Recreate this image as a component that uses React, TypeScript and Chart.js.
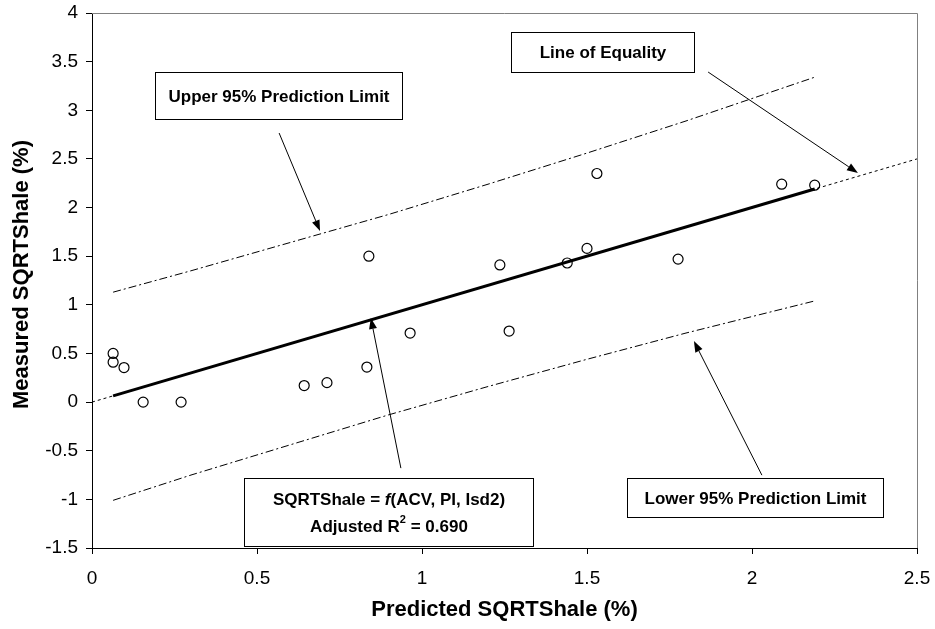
import React, { useEffect, useRef } from "react";
import { Chart, registerables } from "chart.js";

Chart.register(...registerables);

// ---- data ----
const predicted = [0.064, 0.064, 0.097, 0.155, 0.27, 0.643, 0.712, 0.833, 0.839, 0.964, 1.236, 1.264, 1.44, 1.5, 1.53, 1.776, 2.09, 2.19];
const measured = [0.5, 0.41, 0.355, 0.0, 0.0, 0.17, 0.2, 0.36, 1.5, 0.71, 1.41, 0.73, 1.43, 1.58, 2.35, 1.47, 2.24, 2.23];

const fitX = [0.064, 2.19];
const fitY = [0.064, 2.19];

const equalityX = [0, 2.5];
const equalityY = [0, 2.5];

const bandX = [0.064, 0.3, 0.6, 0.9, 1.2, 1.5, 1.8, 2.19];
const upperPI = [1.13, 1.35, 1.64, 1.93, 2.24, 2.56, 2.89, 3.34];
const lowerPI = [-1.01, -0.75, -0.44, -0.13, 0.16, 0.44, 0.71, 1.04];

const xTicks = [0, 0.5, 1, 1.5, 2, 2.5];
const yTicks = [-1.5, -1, -0.5, 0, 0.5, 1, 1.5, 2, 2.5, 3, 3.5, 4];

const xTitle = "Predicted SQRTShale (%)";
const yTitle = "Measured SQRTShale (%)";

// annotation labels (text parts)
const upperLabel = [[{ t: "Upper 95% Prediction Limit" }]];
const equalityLabel = [[{ t: "Line of Equality" }]];
const lowerLabel = [[{ t: "Lower 95% Prediction Limit" }]];
const modelLabel = [
  [{ t: "SQRTShale = " }, { t: "f", italic: true }, { t: "(ACV, PI, Isd2)" }],
  [{ t: "Adjusted R" }, { t: "2", sup: true }, { t: " = 0.690" }],
];

const FONT = "'Liberation Sans', Arial, Helvetica, sans-serif";

const toPts = (xs: number[], ys: number[]) => xs.map((x, i) => ({ x, y: ys[i] }));

type Part = { t: string; italic?: boolean; sup?: boolean };

const boxes = [
  { lines: upperLabel, x1: 0.191, x2: 0.939, y1: 3.393, y2: 2.91 },
  { lines: equalityLabel, x1: 1.27, x2: 1.824, y1: 3.805, y2: 3.393 },
  { lines: lowerLabel, x1: 1.621, x2: 2.397, y1: -0.781, y2: -1.183 },
  { lines: modelLabel, x1: 0.461, x2: 1.336, y1: -0.781, y2: -1.481 },
];

const arrows = [
  { from: [0.567, 2.766], to: [0.691, 1.758] },
  { from: [1.867, 3.393], to: [2.321, 2.355] },
  { from: [2.03, -0.751], to: [1.824, 0.627] },
  { from: [0.936, -0.679], to: [0.845, 0.864] },
];

const framePlugin = {
  id: "frame",
  beforeDatasetsDraw(chart: any) {
    const { ctx, chartArea: a } = chart;
    ctx.save();
    ctx.strokeStyle = "#808080";
    ctx.lineWidth = 1;
    ctx.beginPath();
    ctx.moveTo(a.left, a.top + 0.5);
    ctx.lineTo(a.right + 0.5, a.top + 0.5);
    ctx.lineTo(a.right + 0.5, a.bottom);
    ctx.stroke();
    ctx.restore();
  },
};

const yTitlePlugin = {
  id: "yTitle",
  afterDraw(chart: any) {
    const { ctx, chartArea: a } = chart;
    ctx.save();
    ctx.translate(22, (a.top + a.bottom) / 2 - 6);
    ctx.rotate(-Math.PI / 2);
    ctx.font = `bold 22px ${FONT}`;
    ctx.fillStyle = "#000";
    ctx.textAlign = "center";
    ctx.textBaseline = "middle";
    ctx.fillText(yTitle, 0, 0);
    ctx.restore();
  },
};

const annotationPlugin = {
  id: "annotations",
  afterDraw(chart: any) {
    const { ctx } = chart;
    const xs = chart.scales.x;
    const ys = chart.scales.y;
    ctx.save();
    ctx.strokeStyle = "#000";
    ctx.fillStyle = "#000";
    ctx.lineWidth = 1;
    arrows.forEach((ar) => {
      const x0 = xs.getPixelForValue(ar.from[0]);
      const y0 = ys.getPixelForValue(ar.from[1]);
      const x1 = xs.getPixelForValue(ar.to[0]);
      const y1 = ys.getPixelForValue(ar.to[1]);
      const ang = Math.atan2(y1 - y0, x1 - x0);
      const hl = 11;
      const hw = 4;
      const bx = x1 - hl * Math.cos(ang);
      const by = y1 - hl * Math.sin(ang);
      ctx.beginPath();
      ctx.moveTo(x0, y0);
      ctx.lineTo(bx, by);
      ctx.stroke();
      ctx.beginPath();
      ctx.moveTo(x1, y1);
      ctx.lineTo(bx + hw * Math.sin(ang), by - hw * Math.cos(ang));
      ctx.lineTo(bx - hw * Math.sin(ang), by + hw * Math.cos(ang));
      ctx.closePath();
      ctx.fill();
    });
    boxes.forEach((b) => {
      const left = Math.round(xs.getPixelForValue(b.x1)) + 0.5;
      const right = Math.round(xs.getPixelForValue(b.x2)) + 0.5;
      const top = Math.round(ys.getPixelForValue(b.y1)) + 0.5;
      const bottom = Math.round(ys.getPixelForValue(b.y2)) + 0.5;
      ctx.fillStyle = "#fff";
      ctx.fillRect(left, top, right - left, bottom - top);
      ctx.strokeStyle = "#000";
      ctx.lineWidth = 1;
      ctx.strokeRect(left, top, right - left, bottom - top);
      const cx = (left + right) / 2;
      const cy = (top + bottom) / 2;
      const lh = 27;
      const n = b.lines.length;
      ctx.fillStyle = "#000";
      ctx.textBaseline = "middle";
      ctx.textAlign = "left";
      b.lines.forEach((parts: Part[], li: number) => {
        const ly = cy + (li - (n - 1) / 2) * lh;
        const fontOf = (p: Part) =>
          `${p.italic ? "italic " : ""}bold ${p.sup ? 11 : 17}px ${FONT}`;
        let total = 0;
        parts.forEach((p) => {
          ctx.font = fontOf(p);
          total += ctx.measureText(p.t).width;
        });
        let x = cx - total / 2;
        parts.forEach((p) => {
          ctx.font = fontOf(p);
          ctx.fillText(p.t, x, p.sup ? ly - 6 : ly + 1);
          x += ctx.measureText(p.t).width;
        });
      });
    });
    ctx.restore();
  },
};

export default function App() {
  const ref = useRef<HTMLCanvasElement | null>(null);

  useEffect(() => {
    document.body.style.margin = "0";
    if (!ref.current) return;
    const dash = [8, 3, 2, 3];
    const chart = new Chart(ref.current, {
      type: "scatter",
      data: {
        datasets: [
          {
            label: "Measured",
            data: toPts(predicted, measured),
            showLine: false,
            pointStyle: "circle",
            pointRadius: 5,
            pointBorderWidth: 1.2,
            pointBorderColor: "#000",
            pointBackgroundColor: "rgba(0,0,0,0)",
            borderColor: "#000",
            backgroundColor: "rgba(0,0,0,0)",
          },
          {
            label: "Fit",
            data: toPts(fitX, fitY),
            showLine: true,
            borderColor: "#000",
            borderWidth: 3,
            pointRadius: 0,
          },
          {
            label: "Upper",
            data: toPts(bandX, upperPI),
            showLine: true,
            borderColor: "#000",
            borderWidth: 1,
            borderDash: dash,
            pointRadius: 0,
          },
          {
            label: "Lower",
            data: toPts(bandX, lowerPI),
            showLine: true,
            borderColor: "#000",
            borderWidth: 1,
            borderDash: dash,
            pointRadius: 0,
          },
          {
            label: "Equality",
            data: toPts(equalityX, equalityY),
            showLine: true,
            borderColor: "#000",
            borderWidth: 1,
            borderDash: [3, 3],
            pointRadius: 0,
          },
        ],
      },
      options: {
        animation: false,
        responsive: true,
        maintainAspectRatio: false,
        layout: { padding: { top: 13, right: 18, left: 0, bottom: 0 } },
        plugins: {
          legend: { display: false },
          tooltip: { enabled: false },
        },
        scales: {
          x: {
            type: "linear",
            position: "bottom",
            min: 0,
            max: 2.5,
            afterBuildTicks: (s: any) => {
              s.ticks = xTicks.map((v) => ({ value: v }));
            },
            afterFit: (s: any) => {
              s.height = 81;
              s.paddingLeft = 0;
              s.paddingRight = 0;
            },
            grid: {
              display: true,
              drawOnChartArea: false,
              drawTicks: true,
              tickLength: 6,
              tickColor: "#000",
              color: "#000",
            },
            border: { display: true, color: "#000", width: 1 },
            ticks: {
              color: "#000",
              font: { family: FONT, size: 19 },
              padding: 13,
              maxRotation: 0,
              autoSkip: false,
              callback: (v: any) => String(v),
            },
            title: {
              display: true,
              text: xTitle,
              color: "#000",
              font: { family: FONT, size: 22, weight: "bold" },
              padding: { top: 0, bottom: 6 },
            },
          },
          y: {
            type: "linear",
            min: -1.5,
            max: 4,
            afterBuildTicks: (s: any) => {
              s.ticks = yTicks.map((v) => ({ value: v }));
            },
            afterFit: (s: any) => {
              s.width = 92;
              s.paddingTop = 0;
              s.paddingBottom = 0;
            },
            grid: {
              display: true,
              drawOnChartArea: false,
              drawTicks: true,
              tickLength: 6,
              tickColor: "#000",
              color: "#000",
            },
            border: { display: true, color: "#000", width: 1 },
            ticks: {
              color: "#000",
              font: { family: FONT, size: 19 },
              padding: 8,
              autoSkip: false,
              callback: (v: any) => String(v),
            },
            title: { display: false },
          },
        },
      },
      plugins: [framePlugin, annotationPlugin, yTitlePlugin],
    } as any);
    return () => chart.destroy();
  }, []);

  return (
    <div style={{ width: 935, height: 629, position: "relative", background: "#fff" }}>
      <canvas ref={ref} />
    </div>
  );
}
